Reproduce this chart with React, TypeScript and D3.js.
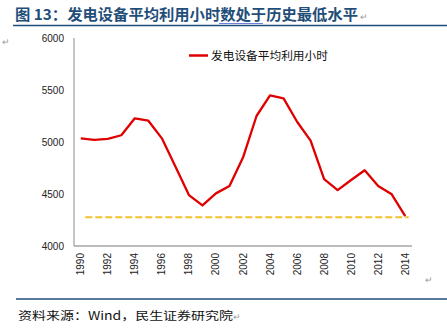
import React from "react";
import * as d3 from "d3";

const years = ["1990","1991","1992","1993","1994","1995","1996","1997","1998","1999","2000","2001","2002","2003","2004","2005","2006","2007","2008","2009","2010","2011","2012","2013","2014"];
const hours = [5035,5020,5030,5065,5228,5205,5035,4765,4490,4390,4506,4577,4850,5250,5449,5420,5195,5013,4644,4538,4635,4728,4577,4497,4288];
const lowLine = 4276;
const yTicks = [4000,4500,5000,5500,6000];
const xTickLabels = years.filter((_, i) => i % 2 === 0);
const title = "图 13：发电设备平均利用小时数处于历史最低水平";
const legendLabel = "发电设备平均利用小时";
const source = "资料来源：Wind，民生证券研究院";

const W = 447, H = 332;
const M = { left: 74, right: 412, top: 38, bottom: 246 };

export default function App() {
  const x = d3.scaleBand<string>().domain(years).range([M.left, M.right]);
  const y = d3.scaleLinear().domain([4000, 6000]).range([M.bottom, M.top]);
  const cx = (d: string) => (x(d) as number) + x.bandwidth() / 2;
  const line = d3.line<number>().x((_, i) => cx(years[i])).y((d) => y(d));
  const serif = "'Noto Sans CJK SC', sans-serif";
  const num = "'Liberation Sans', Arial, sans-serif";
  // wavy underline under 数处于
  const wave: [number, number][] = [];
  for (let i = 0; i <= 44; i++) wave.push([219 + i, 24 + (i % 2 === 0 ? 0 : -1)]);
  const wavePath = d3.line()(wave) as string;
  return (
    <svg width={W} height={H} style={{ position: "absolute", left: 0, top: 0, background: "#fff" }}>
      <text x={15} y={20} fontFamily={serif} fontSize={15} fontWeight="bold" fill="#1F4E79" textLength={343} lengthAdjust="spacingAndGlyphs">{title}</text>
      <path d={wavePath} stroke="#4a5fd0" strokeWidth={0.8} fill="none" />
      <text x={360} y={20} fontFamily={num} fontSize={9} fill="#999">↵</text>
      <line x1={13} x2={447} y1={25.5} y2={25.5} stroke="#1F4E79" strokeWidth={1.3} />
      <text x={2} y={45} fontFamily={num} fontSize={9} fill="#999">↵</text>

      {/* axes */}
      <line x1={M.left} x2={M.left} y1={M.top} y2={M.bottom} stroke="#A6A6A6" strokeWidth={1.3} />
      <line x1={M.left} x2={M.right} y1={M.bottom} y2={M.bottom} stroke="#A6A6A6" strokeWidth={1.3} />
      {yTicks.map((t) => (
        <text key={t} x={64} y={y(t) + 3.5} textAnchor="end" fontFamily={num} fontSize={10} fill="#222">{t}</text>
      ))}
      {xTickLabels.map((t) => (
        <text key={t} transform={`translate(${cx(t) + 3.5},${M.bottom + 7}) rotate(-90)`} textAnchor="end" fontFamily={num} fontSize={10} fill="#222">{t}</text>
      ))}

      {/* series */}
      <line x1={cx(years[0]) + 4.5} x2={cx(years[years.length - 1]) + 3.5} y1={y(lowLine)} y2={y(lowLine)} stroke="#F2C12E" strokeWidth={2} strokeDasharray="7,3" />
      <path d={line(hours) as string} fill="none" stroke="#E00000" strokeWidth={2.3} strokeLinejoin="round" />

      {/* legend */}
      <line x1={189} x2={208} y1={55.5} y2={55.5} stroke="#E00000" strokeWidth={2.5} />
      <text x={211} y={60} fontFamily={serif} fontSize={11.7} fill="#111">{legendLabel}</text>

      <text x={425} y={283} fontFamily={num} fontSize={9} fill="#999">↵</text>
      <line x1={16} x2={447} y1={299} y2={299} stroke="#1F4E79" strokeWidth={1.3} />
      <text x={18} y={320} fontFamily={serif} fontSize={11.5} fill="#111" textLength={215} lengthAdjust="spacingAndGlyphs">{source}</text>
      <text x={233} y={320} fontFamily={num} fontSize={9} fill="#999">↵</text>
    </svg>
  );
}
